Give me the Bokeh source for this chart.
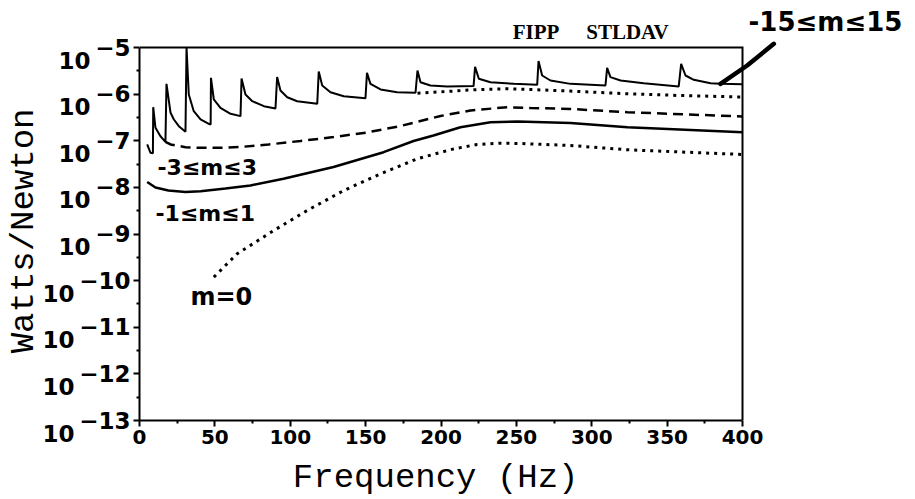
from bokeh.plotting import figure
from bokeh.models import FixedTicker, Label, Range1d
from bokeh.embed import file_html
from bokeh.resources import INLINE

# ---------------- data ----------------
freq_ticks = [0, 50, 100, 150, 200, 250, 300, 350, 400]
freq_minor_ticks = [25, 75, 125, 175, 225, 275, 325, 375]
y_major_ticks = [1e-13, 1e-12, 1e-11, 1e-10, 1e-9, 1e-8, 1e-7, 1e-6, 1e-5]
y_minor_ticks = [3.16e-13, 3.16e-12, 3.16e-11, 3.16e-10, 3.16e-9, 3.16e-8, 3.16e-7, 3.16e-6]
y_tick_base = "10"
y_tick_exponents = ["\u221213", "\u221212", "\u221211", "\u221210", "\u22129",
                    "\u22128", "\u22127", "\u22126", "\u22125"]

# -15 <= m <= 15 (solid, with cut-on spikes)
m15_freq = [5.1, 7.3, 8.9, 9.1, 10.6, 13.9, 17.2, 17.9, 20.6, 22.8, 26.1, 30.5,
            31.2, 32.7, 36.0, 40.5, 46.0, 47.2, 47.4, 49.3, 53.7, 60.4, 67.0,
            67.7, 70.3, 74.8, 82.5, 90.2, 91.3, 93.5, 98.0, 104.6, 117.9,
            118.9, 121.2, 126.7, 135.5, 149.9, 150.9, 153.2, 159.9, 170.9, 183.1,
            184.4, 186.4, 193.0, 204.1, 221.6, 222.6, 225.1, 232.8, 248.3, 263.8,
            264.7, 267.1, 272.6, 285.9, 309.1, 310.2, 312.4, 319.1, 334.5, 357.7,
            359.3, 362.2, 367.7, 378.8, 385.4, 400.0]
m15_power = [8.32e-8, 5.52e-8, 5.37e-8, 5.25e-7, 1.90e-7, 1.25e-7, 9.48e-8, 1.66e-6,
             3.98e-7, 2.86e-7, 2.05e-7, 1.56e-7,
             1.0e-5, 9.82e-7, 4.31e-7, 2.86e-7, 2.31e-7, 2.23e-7, 2.24e-6, 7.67e-7,
             5.09e-7, 3.78e-7, 3.37e-7,
             2.16e-6, 9.82e-7, 7.05e-7, 5.51e-7, 4.92e-7, 2.33e-6, 1.20e-6, 8.59e-7,
             7.05e-7, 6.19e-7,
             3.05e-6, 1.53e-6, 1.10e-6, 9.02e-7, 8.18e-7, 2.86e-6, 1.66e-6, 1.26e-6,
             1.10e-6, 1.07e-6,
             3.21e-6, 1.80e-6, 1.53e-6, 1.46e-6, 1.49e-6, 3.85e-6, 2.13e-6, 1.80e-6,
             1.66e-6, 1.58e-6,
             5.13e-6, 2.51e-6, 1.96e-6, 1.66e-6, 1.53e-6, 3.67e-6, 2.31e-6, 1.96e-6,
             1.71e-6, 1.46e-6,
             4.47e-6, 2.51e-6, 2.03e-6, 1.71e-6, 1.66e-6, 1.62e-6]

# smooth envelope above 185 Hz (dotted)
env_freq = [184.4, 204.1, 221.8, 243.9, 263.8, 285.9, 323.5, 358.9, 400.0]
env_power = [1.05e-6, 1.14e-6, 1.24e-6, 1.30e-6, 1.24e-6, 1.16e-6, 1.02e-6, 9.33e-7, 8.67e-7]

# -3 <= m <= 3 (dashed)
m3_freq = [17.2, 20.6, 30.5, 40.5, 52.4, 67.0, 85.6, 106.8, 128.7, 150.6, 173.1,
           199.7, 219.6, 244.1, 259.4, 285.9, 323.7, 400.0]
m3_power = [9.48e-8, 8.32e-8, 7.28e-8, 7.06e-8, 7.06e-8, 7.35e-8, 8.32e-8, 9.89e-8,
            1.20e-7, 1.50e-7, 2.07e-7, 3.40e-7, 4.46e-7, 5.25e-7, 5.04e-7, 4.80e-7,
            4.09e-7, 3.31e-7]

# -1 <= m <= 1 (solid)
m1_freq = [5.1, 10.6, 19.2, 30.5, 40.5, 57.0, 73.6, 95.5, 128.7, 161.9, 181.8,
           195.0, 212.9, 232.8, 250.7, 285.9, 323.7, 400.0]
m1_power = [1.30e-8, 9.93e-9, 8.57e-9, 7.96e-9, 8.28e-9, 9.46e-9, 1.10e-8, 1.53e-8,
            2.74e-8, 5.68e-8, 9.89e-8, 1.30e-7, 1.95e-7, 2.50e-7, 2.59e-7, 2.40e-7,
            1.95e-7, 1.52e-7]

# m = 0 (dotted)
m0_freq = [49.3, 64.8, 89.1, 111.2, 135.5, 159.9, 184.2, 208.5, 224.0, 239.5, 252.7,
           285.9, 323.7, 400.0]
m0_power = [1.19e-10, 3.77e-10, 1.19e-9, 3.19e-9, 8.57e-9, 1.95e-8, 4.10e-8, 6.71e-8,
            8.32e-8, 8.85e-8, 8.73e-8, 7.91e-8, 6.40e-8, 5.07e-8]

# annotation texts and anchor positions (data units)
curve_labels = ["-3\u2264m\u22643", "-1\u2264m\u22641", "m=0"]
curve_label_freq = [11.9, 10.6, 33.8]
curve_label_power = [2.67e-8, 2.75e-9, 4.35e-11]
top_label = "-15\u2264m\u226415"
top_label_freq = 404.0
top_label_power = 3.6e-5
pointer_freq = [385.4, 403.1, 420.8]
pointer_power = [1.66e-6, 4.11e-6, 1.2e-5]
code_labels = ["FIPP", "STLDAV"]
code_label_freq = [263.0, 323.7]
code_label_power = [2.2e-5, 2.2e-5]

# ---------------- geometry ----------------
# The data frame is extended to the top and right edges of the page so that the
# annotations outside the axes box can be drawn; the box itself is kept at
# 0..400 Hz and 1e-13..1e-5 by axis bounds and two edge lines.
W, H = 915, 499
LEFT, TOP_BOX, BOTTOM = 139, 47, 79
BOX_W = 603                       # pixels for 0..400 Hz
PX_PER_HZ = BOX_W / 400.0
PX_PER_DEC = (H - TOP_BOX - BOTTOM) / 8.0
x_hi = (W - LEFT) / PX_PER_HZ
y_hi = y_major_ticks[-1] * 10 ** (TOP_BOX / PX_PER_DEC)

p = figure(width=W, height=H, y_axis_type="log", title=None,
           x_range=Range1d(0, x_hi), y_range=Range1d(y_major_ticks[0], y_hi),
           output_backend="svg", toolbar_location=None,
           min_border_left=LEFT, min_border_right=0,
           min_border_top=0, min_border_bottom=BOTTOM)
p.background_fill_color = "white"
p.border_fill_color = "white"
p.outline_line_color = None
p.xgrid.visible = False
p.ygrid.visible = False

NBSP = "\u00a0"

xa = p.xaxis[0]
xa.bounds = (freq_ticks[0], freq_ticks[-1])
xa.ticker = FixedTicker(ticks=freq_ticks, minor_ticks=freq_minor_ticks)
# the axis title is centred on the whole frame; trailing no-break spaces move the
# visible words back to the centre of the box
xa.axis_label = "Frequency (Hz)" + NBSP * 9
xa.axis_label_text_font = "Liberation Mono"
xa.axis_label_text_font_size = "34px"
xa.axis_label_text_font_style = "normal"
xa.axis_label_text_color = "black"
xa.axis_label_standoff = 12
xa.major_label_text_font = "DejaVu Sans"
xa.major_label_text_font_style = "bold"
xa.major_label_text_font_size = "20px"
xa.major_label_text_color = "black"
xa.major_label_standoff = 3
xa.axis_line_width = 2
xa.axis_line_color = "black"
xa.major_tick_line_width = 2
xa.major_tick_out = 6
xa.major_tick_in = 0
xa.minor_tick_out = 3
xa.minor_tick_in = 0
xa.minor_tick_line_width = 2

# y labels: exponent at the tick, base "10" just below-left of it
def y_label(exp):
    pad = NBSP * (3 + 2 * (len(exp) - 1))
    return "\n" + exp + "\n" + y_tick_base + pad

ya = p.yaxis[0]
ya.bounds = (y_major_ticks[0], y_major_ticks[-1])
ya.ticker = FixedTicker(ticks=y_major_ticks, minor_ticks=y_minor_ticks)
ya.major_label_overrides = {t: y_label(e) for t, e in zip(y_major_ticks, y_tick_exponents)}
ya.major_label_text_font = "DejaVu Sans"
ya.major_label_text_font_style = "bold"
ya.major_label_text_font_size = "23px"
ya.major_label_text_line_height = 0.5
ya.major_label_text_color = "black"
ya.major_label_standoff = 3
ya.axis_label = "Watts/Newton" + NBSP * 2
ya.axis_label_text_font = "Liberation Mono"
ya.axis_label_text_font_size = "34px"
ya.axis_label_text_font_style = "normal"
ya.axis_label_text_color = "black"
ya.axis_label_standoff = -4
ya.axis_line_width = 2
ya.axis_line_color = "black"
ya.major_tick_line_width = 2
ya.major_tick_out = 6
ya.major_tick_in = 0
ya.minor_tick_out = 3
ya.minor_tick_in = 0
ya.minor_tick_line_width = 2

# top and right edges of the axes box
p.line([freq_ticks[0], freq_ticks[-1], freq_ticks[-1]],
       [y_major_ticks[-1], y_major_ticks[-1], y_major_ticks[0]],
       line_color="black", line_width=2, line_join="miter")

# curves
p.line(m0_freq, m0_power, line_color="black", line_width=3, line_dash="3 5")
p.line(m1_freq, m1_power, line_color="black", line_width=2.5)
p.line(m3_freq, m3_power, line_color="black", line_width=2.5, line_dash="10 6")
p.line(env_freq, env_power, line_color="black", line_width=3, line_dash="3 5")
p.line(m15_freq, m15_power, line_color="black", line_width=2)
p.line(pointer_freq, pointer_power, line_color="black", line_width=4.5, line_cap="round")

# annotations
for txt, f, v in zip(curve_labels, curve_label_freq, curve_label_power):
    p.add_layout(Label(x=f, y=v, text=txt, text_align="left", text_baseline="middle",
                       text_font="DejaVu Sans", text_font_style="bold",
                       text_font_size="24px" if txt == "m=0" else "22px",
                       text_color="black"))
p.add_layout(Label(x=top_label_freq, y=top_label_power, text=top_label,
                   text_align="left", text_baseline="middle",
                   text_font="DejaVu Sans", text_font_style="bold",
                   text_font_size="26px", text_color="black"))
for txt, f, v in zip(code_labels, code_label_freq, code_label_power):
    p.add_layout(Label(x=f, y=v, text=txt, text_align="center", text_baseline="middle",
                       text_font="Liberation Serif", text_font_style="bold",
                       text_font_size="21px", text_color="black"))

open("out.html", "w").write(file_html(p, INLINE))
